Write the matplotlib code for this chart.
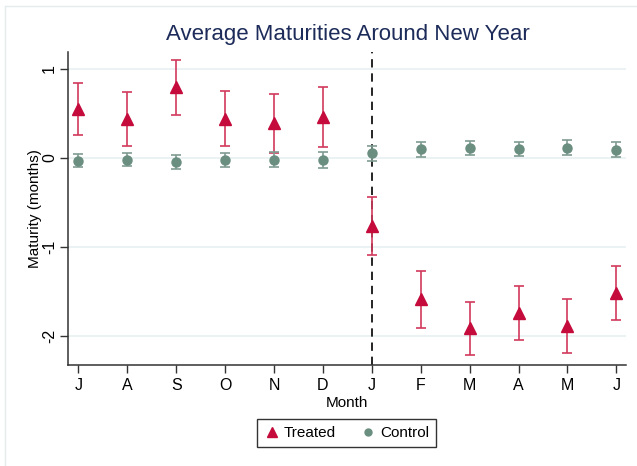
#!/usr/bin/python3

# Event-study style plot: average maturities of treated vs control loans by month around New Year

import matplotlib
matplotlib.use("Agg")
import matplotlib.pyplot as plt
from matplotlib.lines import Line2D

months = ["J", "A", "S", "O", "N", "D", "J", "F", "M", "A", "M", "J"]
new_year_idx = 6

# Treated: point estimate with 95% CI bounds
treated_mean = [0.545, 0.435, 0.79, 0.44, 0.385, 0.453, -0.768, -1.59, -1.916, -1.74, -1.89, -1.52]
treated_lo = [0.251, 0.135, 0.483, 0.127, 0.053, 0.116, -1.09, -1.913, -2.217, -2.042, -2.194, -1.824]
treated_hi = [0.839, 0.734, 1.093, 0.753, 0.719, 0.79, -0.446, -1.27, -1.615, -1.438, -1.584, -1.217]

# Control: point estimate with 95% CI bounds
control_mean = [-0.034, -0.022, -0.048, -0.026, -0.02, -0.026, 0.048, 0.093, 0.107, 0.10, 0.112, 0.09]
control_lo = [-0.109, -0.098, -0.127, -0.104, -0.104, -0.112, -0.037, 0.008, 0.026, 0.022, 0.03, 0.008]
control_hi = [0.042, 0.053, 0.03, 0.053, 0.064, 0.06, 0.135, 0.18, 0.188, 0.18, 0.194, 0.172]

yticks = [-2, -1, 0, 1]

plt.rcParams["font.family"] = ["Liberation Sans", "DejaVu Sans"]

TREATED = "#c50b3c"
TREATED_CI = "#d23a5c"
CONTROL = "#6a8e80"
CONTROL_CI = "#7f9c91"


def plot_maturities(outFile="out.png"):
    fig = plt.figure(figsize=(6.37, 4.66), dpi=100)
    ax = fig.add_axes([0.107, 0.216, 0.876, 0.673])

    x = list(range(len(months)))

    # gridlines like the stata s2color scheme
    for yv in yticks:
        ax.axhline(yv, color="#e8f0f1", lw=1.2, zorder=0)

    ax.axvline(new_year_idx, color="black", lw=1.2, ls=(0, (5, 3.5)), zorder=1)

    t_err = [[m - lo for m, lo in zip(treated_mean, treated_lo)],
             [hi - m for m, hi in zip(treated_mean, treated_hi)]]
    c_err = [[m - lo for m, lo in zip(control_mean, control_lo)],
             [hi - m for m, hi in zip(control_mean, control_hi)]]

    ax.errorbar(x, treated_mean, yerr=t_err, fmt="none", ecolor=TREATED_CI,
                elinewidth=1.2, capsize=3.8, capthick=1.2, zorder=2)
    ax.plot(x, treated_mean, ls="none", marker="^", ms=8, color=TREATED, zorder=3)

    ax.errorbar(x, control_mean, yerr=c_err, fmt="none", ecolor=CONTROL_CI,
                elinewidth=1.2, capsize=3.8, capthick=1.2, zorder=2)
    ax.plot(x, control_mean, ls="none", marker="o", ms=6.5, color=CONTROL, zorder=3)

    ax.set_xlim(-0.21, 11.2)
    ax.set_ylim(-2.33, 1.19)
    ax.set_xticks(x)
    ax.set_xticklabels(months, fontsize=11.5)
    ax.set_yticks(yticks)
    ax.set_yticklabels([str(v) for v in yticks], fontsize=11.5, rotation=90, va="center")

    ax.tick_params(axis="both", direction="out", length=6, width=1, color="#333333")
    ax.tick_params(axis="x", pad=3)
    ax.tick_params(axis="y", pad=2)
    for side in ["top", "right"]:
        ax.spines[side].set_visible(False)
    for side in ["left", "bottom"]:
        ax.spines[side].set_color("#333333")
        ax.spines[side].set_linewidth(1.1)

    ax.set_xlabel("Month", fontsize=11, labelpad=2)
    ax.set_ylabel("Maturity (months)", fontsize=11, labelpad=0)

    fig.text(0.546, 0.925, "Average Maturities Around New Year", ha="center", va="center",
             fontsize=16, color="#1c2b59")

    handles = [Line2D([], [], ls="none", marker="^", ms=7, color=TREATED),
               Line2D([], [], ls="none", marker="o", ms=5, color=CONTROL)]
    leg = fig.legend(handles, ["Treated", "Control"], loc="center", bbox_to_anchor=(0.544, 0.071),
                     ncol=2, fontsize=11, frameon=True, fancybox=False, handletextpad=0.3,
                     columnspacing=1.6, borderpad=0.45, handlelength=1.0)
    leg.get_frame().set_edgecolor("black")
    leg.get_frame().set_linewidth(1.0)

    # faint graph-region outline along top and left
    fig.add_artist(Line2D([5 / 637, 5 / 637], [0, 1 - 6 / 466], transform=fig.transFigure,
                          color="#e4eced", lw=1.0))
    fig.add_artist(Line2D([5 / 637, 1], [1 - 6 / 466, 1 - 6 / 466], transform=fig.transFigure,
                          color="#e4eced", lw=1.0))

    fig.savefig(outFile, dpi=100)


if __name__ == "__main__":
    plot_maturities()
